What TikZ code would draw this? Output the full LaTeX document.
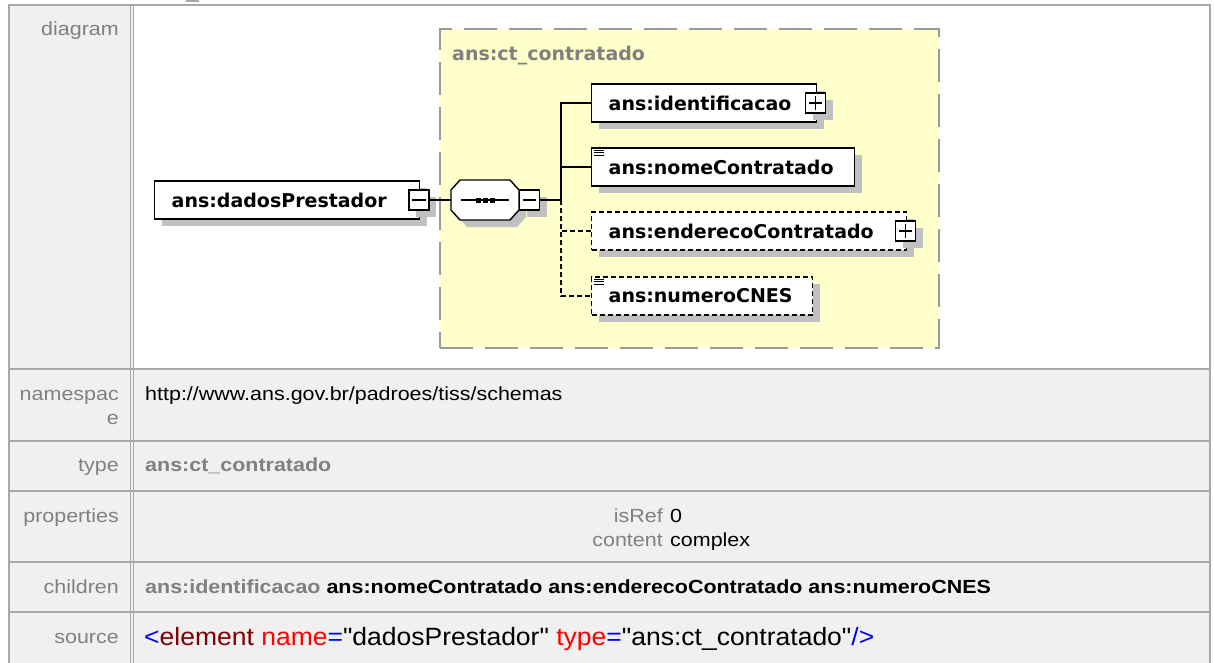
\documentclass[tikz,border=0pt]{standalone}
\usepackage{fontspec}
\setmainfont{Liberation Sans}
\newfontfamily\tabfont[FakeStretch=1.13]{Liberation Sans}
\newfontfamily\srcfont[FakeStretch=1.06]{Liberation Sans}
\newfontfamily\dgfont{DejaVu Sans}
\usetikzlibrary{shadows}
\definecolor{lblgray}{HTML}{808080}
\definecolor{tabbg}{HTML}{F0F0F0}
\definecolor{tabline}{HTML}{A8A8A8}
\definecolor{yel}{HTML}{FFFFCC}
\definecolor{dashgray}{HTML}{9A9A9A}
\definecolor{shadowgray}{HTML}{C0C0C0}
\definecolor{srcblue}{HTML}{0000FF}
\definecolor{srcdark}{HTML}{800000}
\definecolor{srcred}{HTML}{FF0000}
\begin{document}
\begin{tikzpicture}[x=1pt,y=-1pt,
  shad/.style={drop shadow={shadow xshift=7pt,shadow yshift=-7pt,fill=shadowgray,opacity=1}},
  elem/.style={rectangle,draw=black,line width=1.4pt,fill=white,shad,minimum height=38pt,inner xsep=17pt,inner ysep=0pt,align=left,font=\dgfont\bfseries\fontsize{19}{22}\selectfont,anchor=west},
  opt/.style={elem,dash pattern=on 5pt off 3pt},
  pm/.style={rectangle,draw=black,line width=1.2pt,fill=white,minimum size=20pt,inner sep=0pt,shad},
  seqbox/.style={rectangle,minimum width=68pt,minimum height=40pt,inner sep=0pt},
  ctbox/.style={rectangle,draw=dashgray,line width=2pt,dash pattern=on 33pt off 12pt,fill=yel,anchor=north west,inner sep=0pt},
  conn/.style={line width=1.4pt,black},
  optconn/.style={conn,dash pattern=on 5pt off 3pt},
  lbl/.style={anchor=base east,text=lblgray,inner sep=0pt,font=\tabfont\fontsize{19}{22}\selectfont},
  val/.style={anchor=base west,inner sep=0pt,font=\tabfont\fontsize{19}{22}\selectfont},
  tabrule/.style={draw=tabline,line width=2pt},
]
\useasboundingbox (0,0) rectangle (1214,663);
% table
\fill[tabbg] (8,5) rectangle (1211,663);
\fill[white] (133,6) rectangle (1209,368);
\fill[tabline] (186,0) rectangle (199,2);
\draw[tabrule] (8,5) -- (1211,5);
\draw[tabrule] (9,5) -- (9,663);
\draw[tabrule] (1210,5) -- (1210,663);
\draw[draw=tabline,line width=1.5pt] (130.5,5) -- (130.5,663);
\draw[draw=tabline,line width=1.5pt] (133.5,5) -- (133.5,663);
\foreach \yy in {369,441,491,562,612} {\draw[tabrule] (8,\yy) -- (1211,\yy);}
% labels
\node[lbl] (ldiag) at (119,36) {diagram};
\node[lbl] (lns1) at (119,400) {namespac};
\node[lbl] (lns2) at (119,424) {e};
\node[lbl] (ltype) at (119,471) {type};
\node[lbl] (lprop) at (119,522) {properties};
\node[lbl] (lchild) at (119,593) {children};
\node[lbl] (lsrc) at (119,643) {source};
% values
\node[val] (vns) at (145,400) {http://www.ans.gov.br/padroes/tiss/schemas};
\node[val,text=lblgray,font=\tabfont\bfseries\fontsize{19}{22}\selectfont] (vtype) at (145,471) {ans:ct\_contratado};
\node[lbl] (pk1) at (663,522) {isRef};
\node[val] (pv1) at (670,522) {0};
\node[lbl] (pk2) at (663,546) {content};
\node[val] (pv2) at (670,546) {complex};
\node[val,font=\tabfont\bfseries\fontsize{19}{22}\selectfont] (vchild) at (145,593) {\textcolor{lblgray}{ans:identificacao} ans:nomeContratado ans:enderecoContratado ans:numeroCNES};
\node[val,font=\srcfont\fontsize{25}{28}\selectfont] (vsrc) at (144,645) {\textcolor{srcblue}{<}\textcolor{srcdark}{element} \textcolor{srcred}{name}\textcolor{srcblue}{=}"dadosPrestador" \textcolor{srcred}{type}\textcolor{srcblue}{=}"ans:ct\_contratado"\textcolor{srcblue}{/>}};
% diagram
\node[ctbox,minimum width=499pt,minimum height=319pt] (ct) at (439,28) {};
\node[anchor=west,inner sep=0pt,text=lblgray,font=\dgfont\bfseries\fontsize{19}{22}\selectfont] (cttitle) at (452,56) {ans:ct\_contratado};
\node[elem,text width=231pt] (dados) at (154,200) {ans:dadosPrestador};
\node[pm] (m1) at (419,200) {};
\draw[line width=1.2pt] ([xshift=4pt]m1.west) -- ([xshift=-4pt]m1.east);
\node[seqbox] (seq) at (485,200) {};
\draw[line width=1.4pt,fill=white,shad,shift={(seq.center)}] (-34,-10) -- (-25,-20) -- (25,-20) -- (34,-10) -- (34,10) -- (25,20) -- (-25,20) -- (-34,10) -- cycle;
\draw[line width=1.4pt] ([xshift=-24pt]seq.center) -- ([xshift=24pt]seq.center);
\foreach \dx in {-7,0,7} {\fill[black] ([xshift=\dx pt]seq.center) +(-2.5,-2.5) rectangle +(2.5,2.5);}
\node[pm] (m2) at (529.5,200) {};
\draw[line width=1.2pt] ([xshift=4pt]m2.west) -- ([xshift=-4pt]m2.east);
\coordinate (tr) at (561,200);
\node[elem,text width=191pt] (ident) at (591,103) {ans:identificacao};
\node[pm] (p1) at (815.5,103) {};
\draw[line width=1.2pt] ([xshift=4pt]p1.west) -- ([xshift=-4pt]p1.east);
\draw[line width=1.2pt] ([yshift=4pt]p1.south) -- ([yshift=-4pt]p1.north);
\node[elem,text width=229pt] (nome) at (591,167) {ans:nomeContratado};
\node[opt,text width=281pt] (ender) at (591,231) {ans:enderecoContratado};
\node[pm] (p2) at (905.5,231) {};
\draw[line width=1.2pt] ([xshift=4pt]p2.west) -- ([xshift=-4pt]p2.east);
\draw[line width=1.2pt] ([yshift=4pt]p2.south) -- ([yshift=-4pt]p2.north);
\node[opt,text width=187pt] (cnes) at (591,296) {ans:numeroCNES};
\foreach \nn in {nome,cnes} {
  \foreach \ly in {3,5.5,8} {\draw[line width=1pt] ([shift={(3,\ly)}]\nn.north west) -- ([shift={(13,\ly)}]\nn.north west);}
}
\draw[conn] (m1.east) -- (seq.west);
\draw[conn] (m2.east) -- (tr);
\draw[conn] (tr) |- (ident.west);
\draw[conn] (tr) |- (nome.west);
\draw[optconn] (tr) |- (ender.west);
\draw[optconn] (tr) |- (cnes.west);
\end{tikzpicture}
\end{document}
